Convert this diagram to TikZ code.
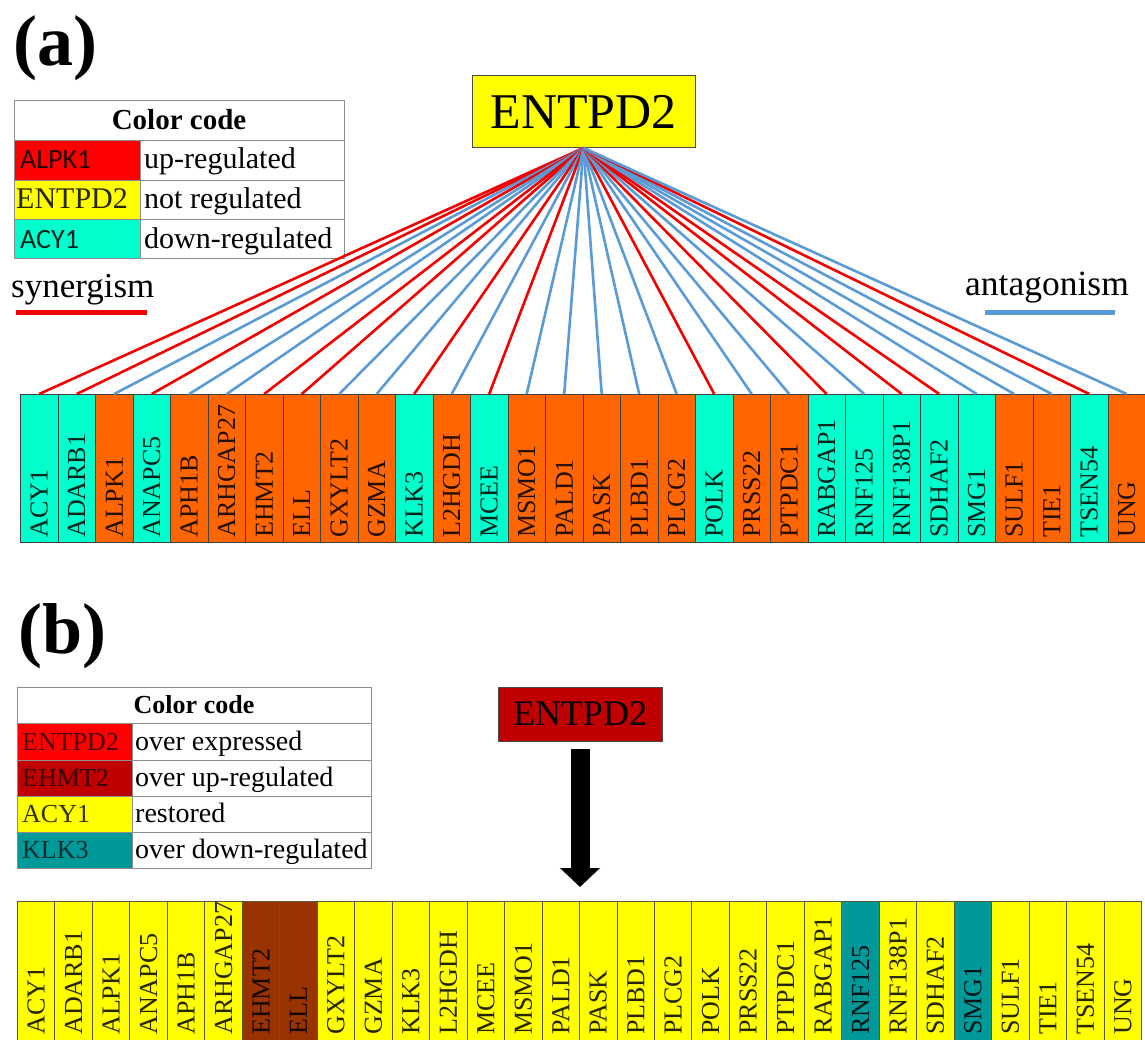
\documentclass[tikz,border=0pt]{standalone}
\usepackage{fontspec}
\setmainfont{Liberation Serif}
\newfontfamily\calib{Carlito}
\usetikzlibrary{arrows.meta}

\definecolor{cyanA}{HTML}{00FFCC}
\definecolor{orangeA}{HTML}{FF6600}
\definecolor{synred}{HTML}{F00000}
\definecolor{antblue}{HTML}{5B9BD5}
\definecolor{yel}{HTML}{FFFF00}
\definecolor{brownB}{HTML}{993300}
\definecolor{tealB}{HTML}{009999}
\definecolor{darkredB}{HTML}{C00000}
\definecolor{redB}{HTML}{FF0000}
\definecolor{boxlineA}{HTML}{404040}
\definecolor{boxlineB}{HTML}{5A5A3A}
\definecolor{tabline}{HTML}{8C8C8C}

\tikzset{
  genebox/.style={draw=boxlineA, line width=0.9pt, minimum width=37.5pt, minimum height=148pt, inner sep=0, anchor=north west},
  geneboxb/.style={genebox, draw=boxlineB, minimum width=37.47pt},
  genelabel/.style={rotate=90, anchor=west, inner sep=0, font=\fontsize{26}{26}\selectfont, text=black, text opacity=0.85},
  linkline/.style={line width=2.6pt},
  tcell/.style={draw=tabline, line width=0.8pt, inner sep=0, anchor=north west},
  ttext/.style={inner sep=0, anchor=base west},
  panel/.style={inner sep=0, anchor=north west, font=\bfseries\fontsize{72}{72}\selectfont},
  hub/.style={draw=black!70, line width=0.9pt, inner sep=0},
}

\begin{document}
\begin{tikzpicture}[x=1pt, y=-1pt]
\useasboundingbox (0,0) rectangle (1145,1039);
\clip (0,0) rectangle (1145,1039);

% ---------------- panel (a) ----------------
\node[panel] (pa) at (13,15) {(a)};

% legend (a)
\node[tcell, minimum width=330pt, minimum height=40pt] (ah) at (14,100) {};
\node[tcell, fill=redB, minimum width=126pt, minimum height=40pt] (a1l) at (14,140) {};
\node[tcell, minimum width=204pt, minimum height=40pt] (a1r) at (140,140) {};
\node[tcell, fill=yel, minimum width=126pt, minimum height=39pt] (a2l) at (14,180) {};
\node[tcell, minimum width=204pt, minimum height=39pt] (a2r) at (140,180) {};
\node[tcell, fill=cyanA, minimum width=126pt, minimum height=39pt] (a3l) at (14,219) {};
\node[tcell, minimum width=204pt, minimum height=39pt] (a3r) at (140,219) {};
\node[inner sep=0, anchor=base, font=\bfseries\fontsize{29}{29}\selectfont] (aht) at (179,129) {Color code};
\node[ttext, font=\calib\fontsize{28}{28}\selectfont, text opacity=0.85] (a1lt) at (20,168) {ALPK1};
\node[ttext, font=\fontsize{30}{30}\selectfont] (a1rt) at (144,168) {up-regulated};
\node[ttext, font=\fontsize{30}{30}\selectfont, text opacity=0.85] (a2lt) at (16,208) {ENTPD2};
\node[ttext, font=\fontsize{30}{30}\selectfont] (a2rt) at (144,208) {not regulated};
\node[ttext, font=\calib\fontsize{28}{28}\selectfont, text opacity=0.85] (a3lt) at (20,248) {ACY1};
\node[ttext, font=\fontsize{30}{30}\selectfont] (a3rt) at (144,248) {down-regulated};

% synergism / antagonism keys
\node[ttext, font=\fontsize{35}{35}\selectfont] (synt) at (11,297) {synergism};
\draw[synred, line width=5pt] (16,312) -- (147,312);
\node[ttext, font=\fontsize{35.5}{35.5}\selectfont] (antt) at (965,295) {antagonism};
\draw[antblue, line width=5pt] (985,312) -- (1115,312);

% hub (a)
\node[hub, fill=yel, minimum width=223pt, minimum height=72pt, font=\fontsize{50}{50}\selectfont] (ea) at (583.5,111.5) {ENTPD2};

% gene rows
\foreach \g/\ca/\lc/\cb [count=\i from 0] in {
  ACY1/cyanA/synred/yel, ADARB1/cyanA/synred/yel, ALPK1/orangeA/antblue/yel,
  ANAPC5/cyanA/synred/yel, APH1B/orangeA/antblue/yel, ARHGAP27/orangeA/antblue/yel,
  EHMT2/orangeA/synred/brownB, ELL/orangeA/synred/brownB, GXYLT2/orangeA/antblue/yel,
  GZMA/orangeA/antblue/yel, KLK3/cyanA/synred/yel, L2HGDH/orangeA/antblue/yel,
  MCEE/cyanA/synred/yel, MSMO1/orangeA/antblue/yel, PALD1/orangeA/antblue/yel,
  PASK/orangeA/antblue/yel, PLBD1/orangeA/antblue/yel, PLCG2/orangeA/antblue/yel,
  POLK/cyanA/synred/yel, PRSS22/orangeA/antblue/yel, PTPDC1/orangeA/antblue/yel,
  RABGAP1/cyanA/synred/yel, RNF125/cyanA/antblue/tealB, RNF138P1/cyanA/synred/yel,
  SDHAF2/cyanA/synred/yel, SMG1/cyanA/antblue/tealB, SULF1/orangeA/antblue/yel,
  TIE1/orangeA/antblue/yel, TSEN54/cyanA/synred/yel, UNG/orangeA/antblue/yel} {
  \node[genebox, fill=\ca] (a\i) at ({20+37.5*\i},394) {};
  \node[genelabel] (ta\i) at ([yshift=5pt]a\i.south) {\g};
  \draw[linkline, draw=\lc] (ea.south) -- (a\i.north);
  \node[geneboxb, fill=\cb] (b\i) at ({17+37.47*\i},901) {};
  \node[genelabel] (tb\i) at ([yshift=15pt]b\i.south) {\g};
}

% ---------------- panel (b) ----------------
\node[panel] (pb) at (18,603) {(b)};

% legend (b)
\node[tcell, minimum width=354pt, minimum height=36pt] (bh) at (17,687) {};
\node[tcell, fill=redB, minimum width=115pt, minimum height=37pt] (b1l) at (17,723) {};
\node[tcell, minimum width=239pt, minimum height=37pt] (b1r) at (132,723) {};
\node[tcell, fill=darkredB, minimum width=115pt, minimum height=36pt] (b2l) at (17,760) {};
\node[tcell, minimum width=239pt, minimum height=36pt] (b2r) at (132,760) {};
\node[tcell, fill=yel, minimum width=115pt, minimum height=36pt] (b3l) at (17,796) {};
\node[tcell, minimum width=239pt, minimum height=36pt] (b3r) at (132,796) {};
\node[tcell, fill=tealB, minimum width=115pt, minimum height=36pt] (b4l) at (17,832) {};
\node[tcell, minimum width=239pt, minimum height=36pt] (b4r) at (132,832) {};
\node[inner sep=0, anchor=base, font=\bfseries\fontsize{26}{26}\selectfont] (bht) at (194,713) {Color code};
\node[ttext, font=\fontsize{26}{26}\selectfont, text opacity=0.7] (b1lt) at (22,750) {ENTPD2};
\node[ttext, font=\fontsize{28}{28}\selectfont] (b1rt) at (135,750) {over expressed};
\node[ttext, font=\fontsize{26}{26}\selectfont, text opacity=0.7] (b2lt) at (22,786) {EHMT2};
\node[ttext, font=\fontsize{28}{28}\selectfont] (b2rt) at (135,786) {over up-regulated};
\node[ttext, font=\fontsize{26}{26}\selectfont, text opacity=0.8] (b3lt) at (22,822) {ACY1};
\node[ttext, font=\fontsize{28}{28}\selectfont] (b3rt) at (135,822) {restored};
\node[ttext, font=\fontsize{26}{26}\selectfont, text opacity=0.7] (b4lt) at (22,858) {KLK3};
\node[ttext, font=\fontsize{28}{28}\selectfont] (b4rt) at (135,858) {over down-regulated};

% hub (b) and arrow
\node[hub, fill=darkredB, minimum width=164pt, minimum height=54pt, font=\fontsize{36}{36}\selectfont] (eb) at (580,714) {ENTPD2};
\coordinate (tipb) at (580,887);
\draw[line width=19pt, -{Triangle[width=39pt,length=19pt]}, shorten <=8pt] (eb.south) -- (tipb);

\end{tikzpicture}
\end{document}
